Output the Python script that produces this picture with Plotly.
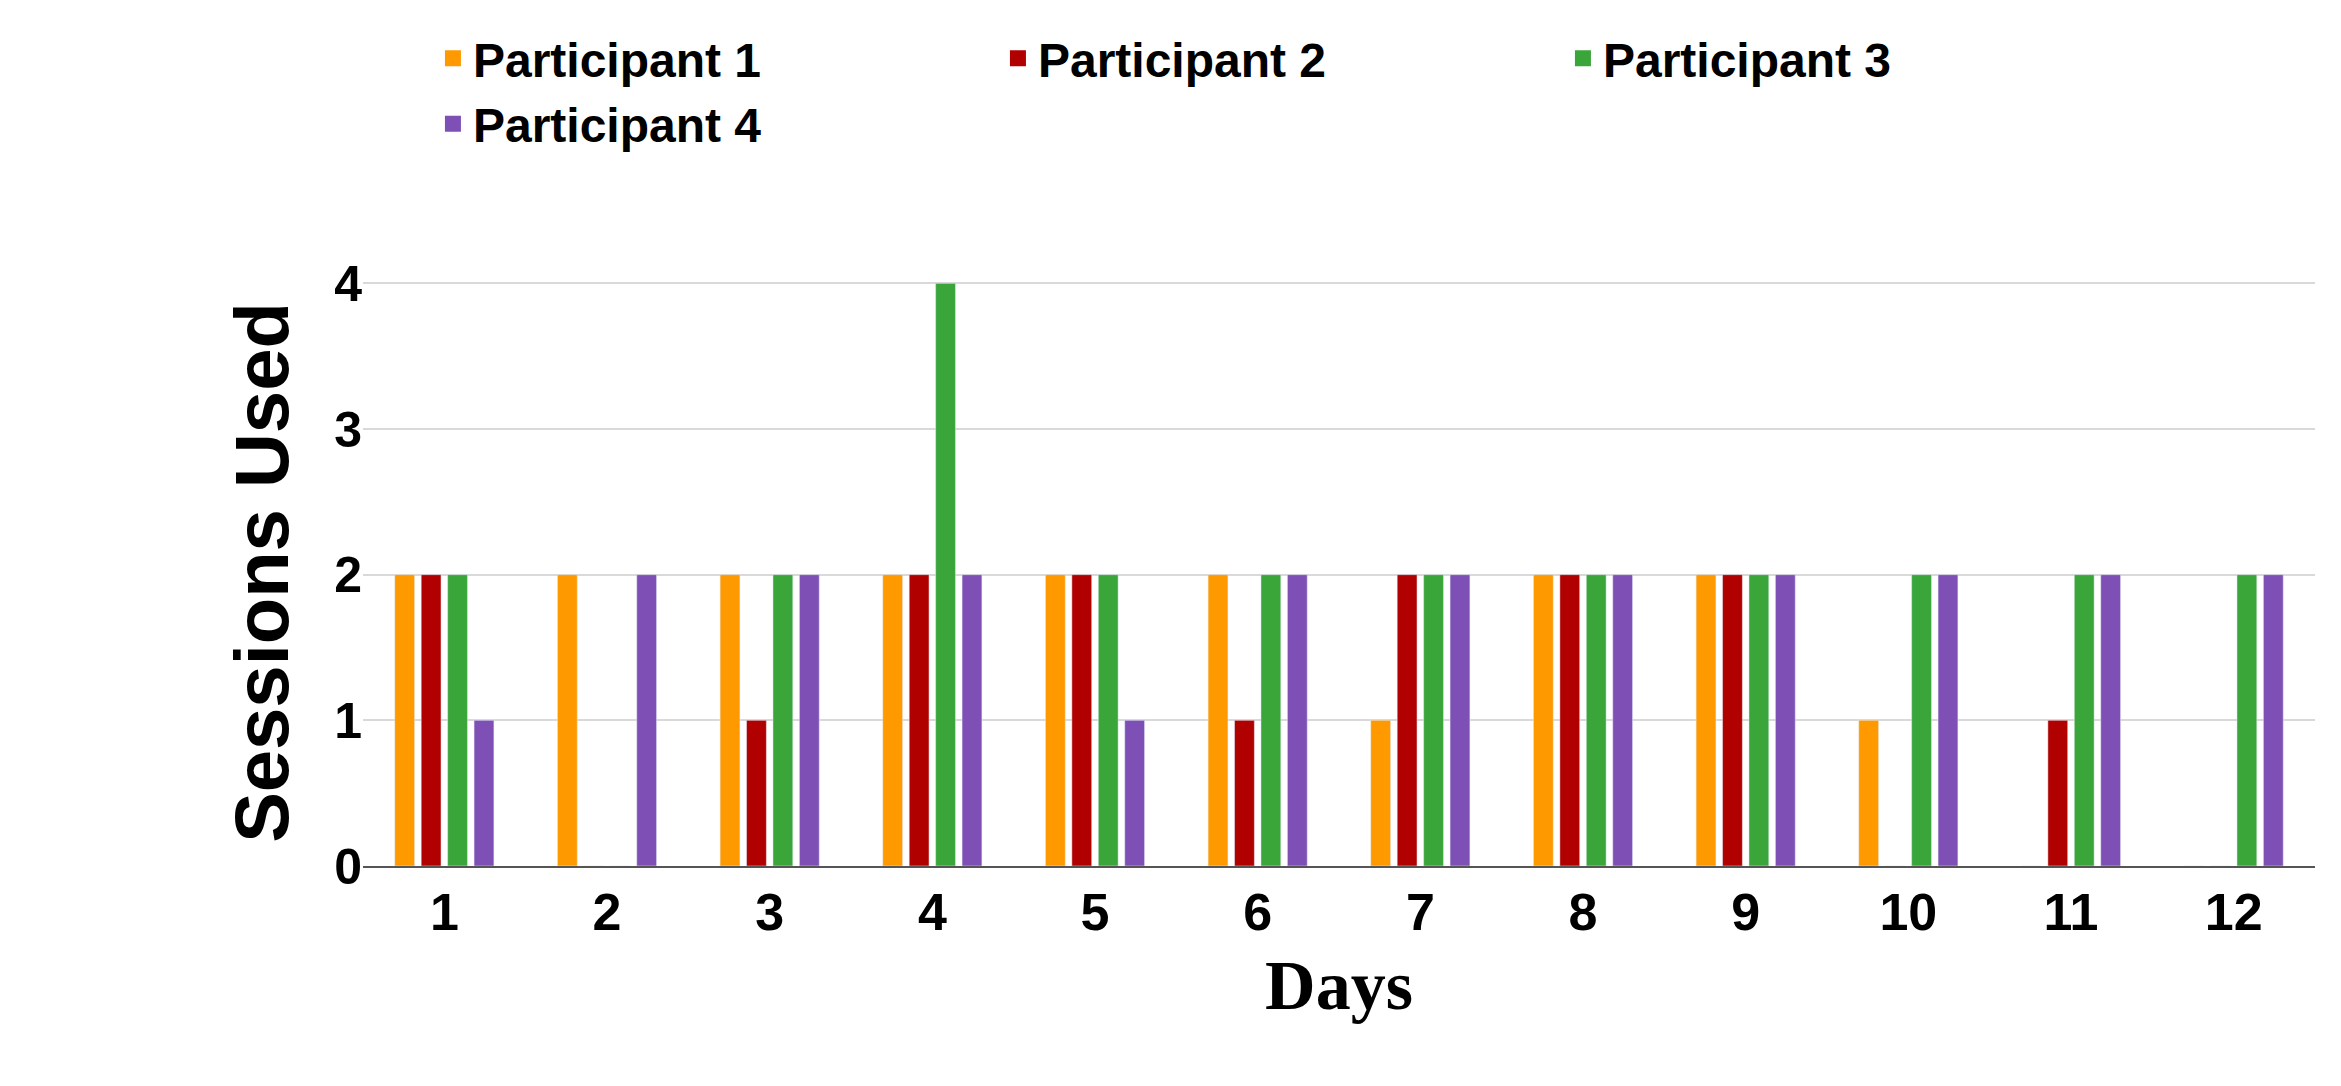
import plotly.graph_objects as go

days = [str(d) for d in range(1, 13)]
p1 = [2, 2, 2, 2, 2, 2, 1, 2, 2, 1, 0, 0]
p2 = [2, 0, 1, 2, 2, 1, 2, 2, 2, 0, 1, 0]
p3 = [2, 0, 2, 4, 2, 2, 2, 2, 2, 2, 2, 2]
p4 = [1, 2, 2, 2, 1, 2, 2, 2, 2, 2, 2, 2]
names = ["Participant 1", "Participant 2", "Participant 3", "Participant 4"]
colors = ["#FF9900", "#B00000", "#3AA63A", "#7E4FB5"]

fig = go.Figure()
for n, v, c in zip(names, [p1, p2, p3, p4], colors):
    fig.add_bar(x=days, y=v, name=n, marker_color=c, showlegend=False)
for n, c in zip(names, colors):
    fig.add_scatter(x=[None], y=[None], mode="markers", name=n,
                    marker=dict(symbol="square", size=34, color=c))

fig.update_layout(
    width=2341, height=1086, plot_bgcolor="white", paper_bgcolor="white",
    barmode="group", bargap=0.35, bargroupgap=0.25,
    margin=dict(l=355, r=34, t=112, b=228),
    font=dict(family="Liberation Sans", color="black"),
    legend=dict(orientation="h", x=0.47, xanchor="center", y=1.2, yanchor="bottom",
                font=dict(size=48, family="Liberation Sans", weight="bold"),
                entrywidth=520, entrywidthmode="pixels"),
    xaxis=dict(tickfont=dict(size=52, weight="bold"), showline=True, linecolor="#555", linewidth=2,
               title=dict(text="Days", font=dict(family="Liberation Serif", size=70, weight="bold"), standoff=20)),
    yaxis=dict(range=[0, 4.03], tickvals=[0, 1, 2, 3, 4], tickfont=dict(size=50, weight="bold"),
               gridcolor="#d9d9d9", gridwidth=2, zeroline=False, ticksuffix="    ",
               title=dict(text="Sessions Used", font=dict(size=76, weight="bold"), standoff=20)),
)
fig.write_html("out.html")
